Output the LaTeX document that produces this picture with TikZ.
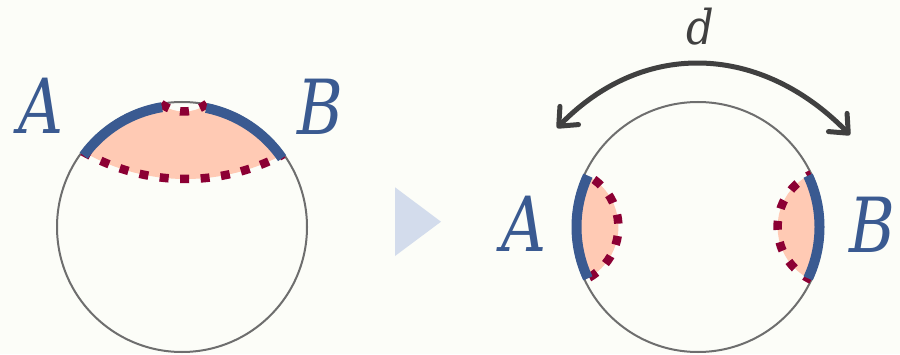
\documentclass[tikz,border=0pt]{standalone}
\usepackage{fontspec}
\newfontfamily\labelfont{DejaVu Serif}
\usepackage{tikz}
\usetikzlibrary{arrows.meta}
\definecolor{bgcol}{HTML}{FCFDF8}
\definecolor{cutblue}{HTML}{3A5A91}
\definecolor{lenspink}{HTML}{FFCAB4}
\definecolor{wallred}{HTML}{8C0034}
\definecolor{diskgray}{HTML}{6E6E6E}
\definecolor{spangray}{HTML}{404040}
\definecolor{stepblue}{HTML}{D3DCEC}

\begin{document}
\begin{tikzpicture}[
    x=1pt,y=1pt,
    disk/.style={draw=diskgray,line width=2pt},
    cut/.style={draw=cutblue,line width=10pt},
    wall/.style={draw=wallred,line width=8.5pt,dash pattern=on 9pt off 11.5pt},
    lens/.style={fill=lenspink},
    span/.style={{Straight Barb[round,length=15pt,width=26pt]}-{Straight Barb[round,length=15pt,width=26pt]},line width=5pt,draw=spangray,line cap=round},
    letter/.style={text=cutblue,font=\labelfont\fontsize{76}{86}\selectfont\itshape,inner sep=0pt,xscale=0.82},
    dlabel/.style={text=spangray,font=\labelfont\fontsize{48}{56}\selectfont\itshape,inner sep=0pt,xscale=0.9}
]
\useasboundingbox[fill=bgcol] (0,0) rectangle (900,354);
\coordinate (lc) at (182,127);
\coordinate (rc) at (698,127);

% left disk
\begin{scope}
\clip (lc) circle[radius=125];
\fill[lens] (185.5,381) circle[radius=206];
\fill[bgcol] (184,280) circle[radius=37.5];
\end{scope}
\draw[disk] (lc) circle[radius=125];
\draw[wall] (185.5,381) ++(-120:206) arc[start angle=-120,end angle=-61.6,radius=206];
\draw[wall] (184,280) ++(-127.5:37.5) arc[start angle=-127.5,end angle=-52.5,radius=37.5];
\draw[cut] (lc) ++(144:121.5) arc[start angle=144,end angle=99.5,radius=121.5];
\draw[cut] (lc) ++(78.5:121.5) arc[start angle=78.5,end angle=34.5,radius=121.5];
\node[letter] (lA) at (41,248) {A};
\node[letter] (lB) at (320.5,247.5) {B};

\fill[stepblue] (395,166.7) -- (395,98) -- (441,132.3) -- cycle;

% right disk
\begin{scope}
\clip (rc) circle[radius=125];
\fill[lens] (560.1,127) circle[radius=58.3];
\fill[lens] (835.9,127) circle[radius=58.3];
\end{scope}
\draw[disk] (rc) circle[radius=125];
\draw[wall,dash pattern=on 9pt off 12.5pt,dash phase=10.85] (560.1,127) ++(65:58.3) arc[start angle=65,end angle=-65,radius=58.3];
\draw[wall,dash pattern=on 9pt off 12.5pt,dash phase=4.5] (835.9,127) ++(115:58.3) arc[start angle=115,end angle=245,radius=58.3];
\draw[cut] (rc) ++(155:121.5) arc[start angle=155,end angle=205,radius=121.5];
\draw[cut] (rc) ++(-25:121.5) arc[start angle=-25,end angle=25,radius=121.5];
\node[letter] (rA) at (524,130) {A};
\node[letter] (rB) at (872.5,129) {B};

\coordinate (dA) at (557,226);
\coordinate (dB) at (850,219);
\draw[span] (dA) .. controls (645,316) and (762,309) .. (dB);
\node[dlabel] (dist) at (700,327.5) {d};
\end{tikzpicture}
\end{document}
